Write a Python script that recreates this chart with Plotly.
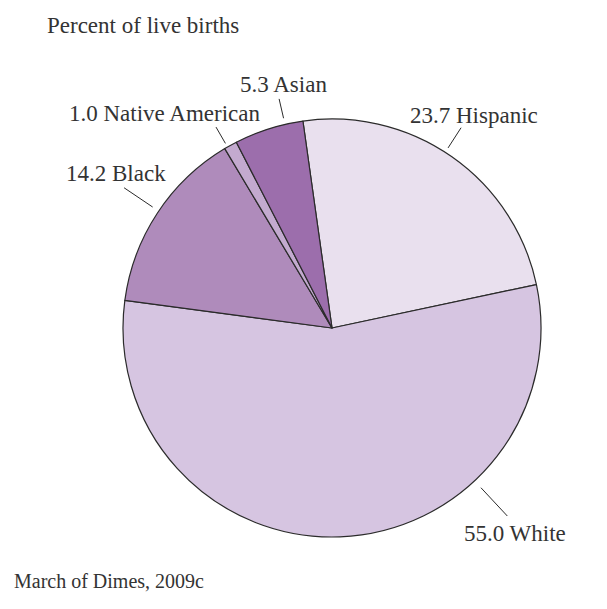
import math
import plotly.graph_objects as go

# ---- data ----
groups = ["Hispanic", "White", "Black", "Native American", "Asian"]
percents = [23.7, 55.0, 14.2, 1.0, 5.3]

# ---- styles ----
colors = ["#E9E0EE", "#D6C5E1", "#AF8BBB", "#C3AACF", "#9C6EAC"]
FONT = "Liberation Serif, Times New Roman, serif"
TXT = "#333333"
OFF = 8  # default page body margin
W, H = 607 - OFF, 609 - OFF
CX, CY, R = 332 - OFF, 328 - OFF, 209  # pie centre / radius in pixels (figure coords)

# label leader geometry: angle (deg clockwise from 12 o'clock), inner/outer radius (x R), text offset px
label_geom = {
    "Hispanic":        (32.8, 1.025, 1.14, 13, -12),
    "White":           (137.0, 1.045, 1.23, 8, 17),
    "Black":           (304.0, 1.035, 1.20, -8, -14),
    "Native American": (330.0, 1.02, 1.11, -52, -14),
    "Asian":           (347.0, 1.03, 1.125, 4, -14),
}

def px_to_paper(x, y):
    return x / W, 1 - y / H

fig = go.Figure(go.Pie(
    labels=groups,
    values=percents,
    sort=False,
    direction="clockwise",
    rotation=-8,
    marker=dict(colors=colors, line=dict(color="#2b2b2b", width=1.2)),
    textinfo="none",
    hoverinfo="label+value",
    showlegend=False,
    domain=dict(x=[(CX - R) / W, (CX + R) / W], y=[1 - (CY + R) / H, 1 - (CY - R) / H]),
))

shapes = []
annotations = []
for g, v in zip(groups, percents):
    ang, rin, rout, dx, dy = label_geom[g]
    a = math.radians(ang)
    x0, y0 = CX + R * rin * math.sin(a), CY - R * rin * math.cos(a)
    x1, y1 = CX + R * rout * math.sin(a), CY - R * rout * math.cos(a)
    p0 = px_to_paper(x0, y0)
    p1 = px_to_paper(x1, y1)
    shapes.append(dict(type="line", xref="paper", yref="paper",
                       x0=p0[0], y0=p0[1], x1=p1[0], y1=p1[1],
                       line=dict(color="#2b2b2b", width=1)))
    tx, ty = px_to_paper(x1 + dx, y1 + dy)
    annotations.append(dict(xref="paper", yref="paper", x=tx, y=ty,
                            text=f"{v:.1f} {g}", showarrow=False,
                            xanchor="center", yanchor="middle",
                            font=dict(family=FONT, size=23, color=TXT)))

annotations.append(dict(xref="paper", yref="paper", x=(45 - OFF) / W, y=1 - (26 - OFF) / H,
                        text="Percent of live births", showarrow=False,
                        xanchor="left", yanchor="middle",
                        font=dict(family=FONT, size=23, color=TXT)))
annotations.append(dict(xref="paper", yref="paper", x=(12 - OFF) / W, y=1 - (581 - OFF) / H,
                        text="March of Dimes, 2009c", showarrow=False,
                        xanchor="left", yanchor="middle",
                        font=dict(family=FONT, size=20, color=TXT)))

fig.update_layout(
    width=W, height=H,
    margin=dict(l=0, r=0, t=0, b=0),
    paper_bgcolor="white", plot_bgcolor="white",
    shapes=shapes, annotations=annotations,
)

fig.write_html("out.html")
